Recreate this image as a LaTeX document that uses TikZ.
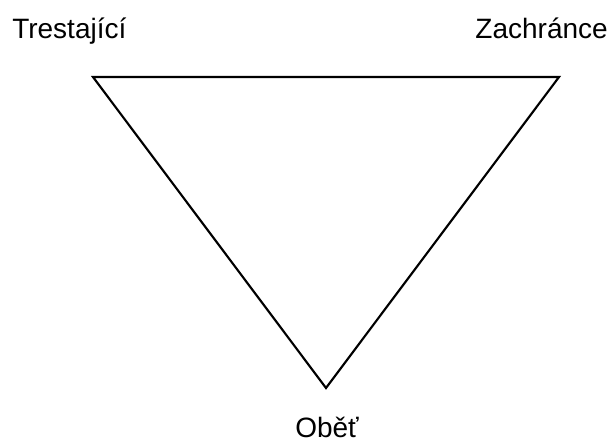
\documentclass[tikz,border=0pt]{standalone}
\usepackage{fontspec}
\setmainfont{Liberation Sans}
\begin{document}
\begin{tikzpicture}[x=0.75pt,y=-0.75pt,
  lab/.style={font=\fontsize{21}{25}\selectfont, inner sep=0pt, anchor=base west},
  tri/.style={draw=black, line width=1.6pt, line join=miter}]
\useasboundingbox (0,0) rectangle (616,444);
\coordinate (L) at (93,77);
\coordinate (R) at (559,77);
\coordinate (B) at (326,388);
\draw[tri] (L) -- (R) -- (B) -- cycle;
\node[lab] (t) at (12,38) {Trestající};
\node[lab, anchor=base east] (z) at (608,38) {Zachránce};
\node[lab, anchor=base] (o) at (327,437) {Oběť};
\end{tikzpicture}
\end{document}
